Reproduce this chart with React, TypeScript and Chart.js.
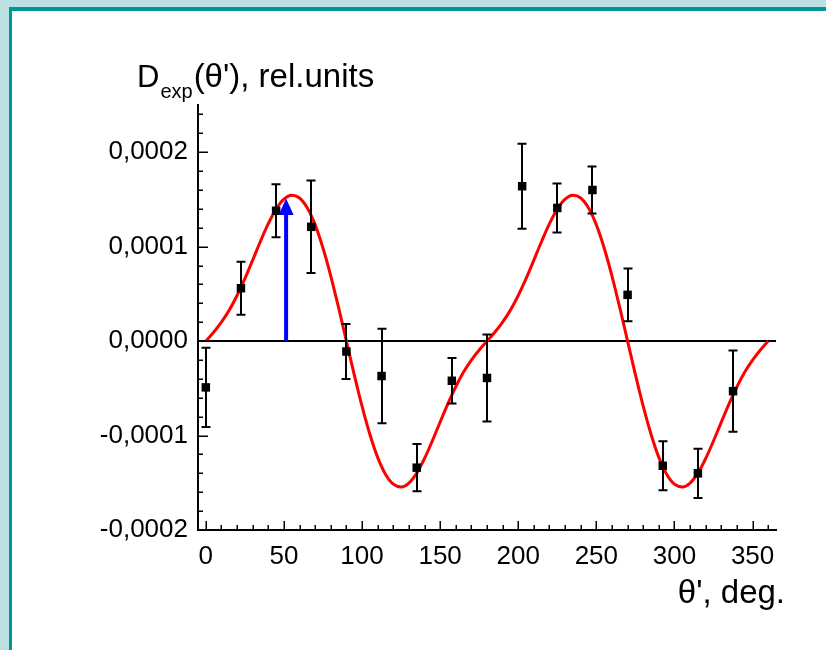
import React, { useEffect, useRef } from 'react';
import { Chart, registerables } from 'chart.js';

Chart.register(...registerables);

// Measured points (angle in degrees, value in rel. units, error)
const angles = [0, 22.5, 45, 67.5, 90, 112.5, 135, 157.5, 180, 202.5, 225, 247.5, 270, 292.5, 315, 337.5];
const measured = [-0.000049, 0.000056, 0.000138, 0.000121, -0.000011, -0.000037, -0.000134, -0.000042, -0.000039, 0.000164, 0.000141, 0.00016, 0.000049, -0.000132, -0.00014, -0.000053];
const errors = [0.000042, 0.000028, 0.000028, 0.000049, 0.000029, 0.00005, 0.000025, 0.000024, 0.000046, 0.000045, 0.000026, 0.000025, 0.000028, 0.000026, 0.000026, 0.000043];

// Fitted curve (every 5 degrees)
const curveX = [
  0, 5, 10, 15, 20, 25, 30, 35, 40, 45, 50, 55, 60, 65, 70, 75, 80, 85, 90,
  95, 100, 105, 110, 115, 120, 125, 130, 135, 140, 145, 150, 155, 160, 165, 170, 175, 180,
  185, 190, 195, 200, 205, 210, 215, 220, 225, 230, 235, 240, 245, 250, 255, 260, 265, 270,
  275, 280, 285, 290, 295, 300, 305, 310, 315, 320, 325, 330, 335, 340, 345, 350, 355, 360,
];
const curveY = [
  0, 9.4e-6, 20.1e-6, 32.8e-6, 48.3e-6, 66.1e-6, 85.7e-6, 105.7e-6, 124.3e-6, 139.8e-6, 150.3e-6, 154.5e-6, 151.5e-6, 140.9e-6, 123.1e-6, 98.6e-6, 68.9e-6, 35.4e-6, 0,
  -35.4e-6, -68.9e-6, -98.6e-6, -123.1e-6, -140.9e-6, -151.5e-6, -154.5e-6, -150.3e-6, -139.8e-6, -124.3e-6, -105.7e-6, -85.7e-6, -66.1e-6, -48.3e-6, -32.8e-6, -20.1e-6, -9.4e-6, 0,
  9.4e-6, 20.1e-6, 32.8e-6, 48.3e-6, 66.1e-6, 85.7e-6, 105.7e-6, 124.3e-6, 139.8e-6, 150.3e-6, 154.5e-6, 151.5e-6, 140.9e-6, 123.1e-6, 98.6e-6, 68.9e-6, 35.4e-6, 0,
  -35.4e-6, -68.9e-6, -98.6e-6, -123.1e-6, -140.9e-6, -151.5e-6, -154.5e-6, -150.3e-6, -139.8e-6, -124.3e-6, -105.7e-6, -85.7e-6, -66.1e-6, -48.3e-6, -32.8e-6, -20.1e-6, -9.4e-6, 0,
];

// Blue arrow marking the maximum direction
const arrowX = [51.4];
const arrowY = [0.000151];

// Axes
const xTickValues = [0, 50, 100, 150, 200, 250, 300, 350];
const xTickLabels = ['0', '50', '100', '150', '200', '250', '300', '350'];
const xMinorTicks = [0, 10, 20, 30, 40, 50, 60, 70, 80, 90, 100, 110, 120, 130, 140, 150, 160, 170, 180, 190, 200, 210, 220, 230, 240, 250, 260, 270, 280, 290, 300, 310, 320, 330, 340, 350, 360];
const yTickValues = [-0.0002, -0.0001, 0, 0.0001, 0.0002];
const yTickLabels = ['-0,0002', '-0,0001', '0,0000', '0,0001', '0,0002'];
const yMinorTicks = [-0.0002, -0.00018, -0.00016, -0.00014, -0.00012, -0.0001, -0.00008, -0.00006, -0.00004, -0.00002, 0, 0.00002, 0.00004, 0.00006, 0.00008, 0.0001, 0.00012, 0.00014, 0.00016, 0.00018, 0.0002, 0.00022, 0.00024];

const FONT = '"Liberation Sans", Arial, Helvetica, sans-serif';

const isMajor = (v: number, step: number) => Math.abs(v / step - Math.round(v / step)) < 1e-6;

const decorPlugin = {
  id: 'decor',
  afterDatasetsDraw(chart: any) {
    const { ctx } = chart;
    const x = chart.scales.x;
    const y = chart.scales.y;
    ctx.save();
    // error bars
    ctx.strokeStyle = '#000';
    ctx.lineWidth = 2;
    angles.forEach((a, i) => {
      const px = Math.round(x.getPixelForValue(a));
      const top = y.getPixelForValue(measured[i] + errors[i]);
      const bot = y.getPixelForValue(measured[i] - errors[i]);
      ctx.beginPath();
      ctx.moveTo(px, top);
      ctx.lineTo(px, bot);
      ctx.moveTo(px - 4.5, top);
      ctx.lineTo(px + 4.5, top);
      ctx.moveTo(px - 4.5, bot);
      ctx.lineTo(px + 4.5, bot);
      ctx.stroke();
    });
    // arrow
    ctx.fillStyle = '#0000ff';
    arrowX.forEach((ax, i) => {
      const px = x.getPixelForValue(ax);
      const y0 = y.getPixelForValue(0);
      const tip = y.getPixelForValue(arrowY[i]);
      const base = tip + 16;
      ctx.fillRect(px - 2, base, 4, y0 - base);
      ctx.beginPath();
      ctx.moveTo(px, tip);
      ctx.lineTo(px + 7.5, base + 0.5);
      ctx.lineTo(px - 7.5, base + 0.5);
      ctx.closePath();
      ctx.fill();
    });
    ctx.restore();
  },
  afterDraw(chart: any) {
    const { ctx, chartArea } = chart;
    const x = chart.scales.x;
    const y = chart.scales.y;
    ctx.save();
    ctx.strokeStyle = '#000';
    ctx.lineWidth = 1.5;
    ctx.beginPath();
    xMinorTicks.forEach((v) => {
      const px = Math.round(x.getPixelForValue(v)) + 0.25;
      const len = isMajor(v, 50) ? 9 : 5;
      ctx.moveTo(px, chartArea.bottom);
      ctx.lineTo(px, chartArea.bottom - len);
    });
    yMinorTicks.forEach((v) => {
      const py = Math.round(y.getPixelForValue(v)) + 0.25;
      const len = isMajor(v, 0.0001) ? 10 : 5;
      ctx.moveTo(chartArea.left, py);
      ctx.lineTo(chartArea.left + len, py);
    });
    ctx.stroke();

    // axis titles
    ctx.fillStyle = '#000';
    ctx.textBaseline = 'alphabetic';
    ctx.textAlign = 'left';
    const tx = chartArea.left - 61;
    const ty = chartArea.top - 18;
    ctx.font = `31px ${FONT}`;
    ctx.fillText('D', tx, ty);
    const dW = ctx.measureText('D').width;
    ctx.font = `20px ${FONT}`;
    ctx.fillText('exp', tx + dW + 1, ty + 11);
    const eW = ctx.measureText('exp').width;
    ctx.font = `33px ${FONT}`;
    ctx.fillText("(θ'), rel.units", tx + dW + 1 + eW + 1, ty);

    ctx.textAlign = 'right';
    ctx.font = `33px ${FONT}`;
    ctx.fillText("θ', deg.", chartArea.right + 9, chartArea.bottom + 73);
    ctx.restore();
  },
};

export default function App() {
  const canvasRef = useRef<HTMLCanvasElement | null>(null);

  useEffect(() => {
    if (!canvasRef.current) return;
    const chart = new Chart(canvasRef.current, {
      type: 'scatter',
      data: {
        datasets: [
          {
            label: 'measured',
            data: angles.map((a, i) => ({ x: a, y: measured[i] })),
            pointStyle: 'rect',
            pointRadius: 6,
            pointBorderWidth: 0,
            backgroundColor: '#000',
            borderColor: '#000',
            showLine: false,
          },
          {
            label: 'fit',
            type: 'line',
            data: curveX.map((a, i) => ({ x: a, y: curveY[i] })),
            borderColor: '#ff0000',
            borderWidth: 3,
            pointRadius: 0,
            cubicInterpolationMode: 'monotone',
            fill: false,
          } as any,
        ],
      },
      options: {
        responsive: false,
        animation: false,
        layout: { padding: { left: 0, top: 105, right: 50, bottom: 0 } },
        plugins: { legend: { display: false }, tooltip: { enabled: false } },
        scales: {
          x: {
            type: 'linear',
            min: -5,
            max: 365,
            afterBuildTicks: (scale: any) => {
              scale.ticks = xTickValues.map((value) => ({ value }));
            },
            afterFit: (scale: any) => {
              scale.height = 120;
            },
            ticks: {
              autoSkip: false,
              maxRotation: 0,
              padding: 11,
              color: '#000',
              font: { family: FONT, size: 26 },
              callback: (_v: any, i: number) => xTickLabels[i],
            },
            grid: { display: false, drawTicks: false },
            border: { display: true, color: '#000', width: 2 },
          },
          y: {
            type: 'linear',
            min: -0.0002,
            max: 0.00025,
            afterBuildTicks: (scale: any) => {
              scale.ticks = yTickValues.map((value) => ({ value }));
            },
            afterFit: (scale: any) => {
              scale.width = 198;
            },
            ticks: {
              autoSkip: false,
              padding: 10,
              color: '#000',
              font: { family: FONT, size: 26 },
              callback: (_v: any, i: number) => yTickLabels[i],
            },
            grid: {
              display: true,
              drawTicks: false,
              lineWidth: 2,
              color: (ctx: any) =>
                ctx.tick && Math.abs(ctx.tick.value) < 1e-12 ? '#000' : 'rgba(0,0,0,0)',
            },
            border: { display: true, color: '#000', width: 2 },
          },
        },
      },
      plugins: [decorPlugin],
    });
    return () => chart.destroy();
  }, []);

  return (
    <div style={{ position: 'fixed', left: 0, top: 0, width: 826, height: 650, background: '#bbe0e3', overflow: 'hidden' }}>
      <div
        style={{
          position: 'absolute',
          left: 9,
          top: 7,
          width: 840,
          height: 660,
          background: '#ffffff',
          borderLeft: '3px solid #009792',
          borderTop: '4px solid #009792',
        }}
      />
      <canvas
        ref={canvasRef}
        width={826}
        height={650}
        style={{ position: 'absolute', left: 0, top: 0, display: 'block' }}
      />
    </div>
  );
}
